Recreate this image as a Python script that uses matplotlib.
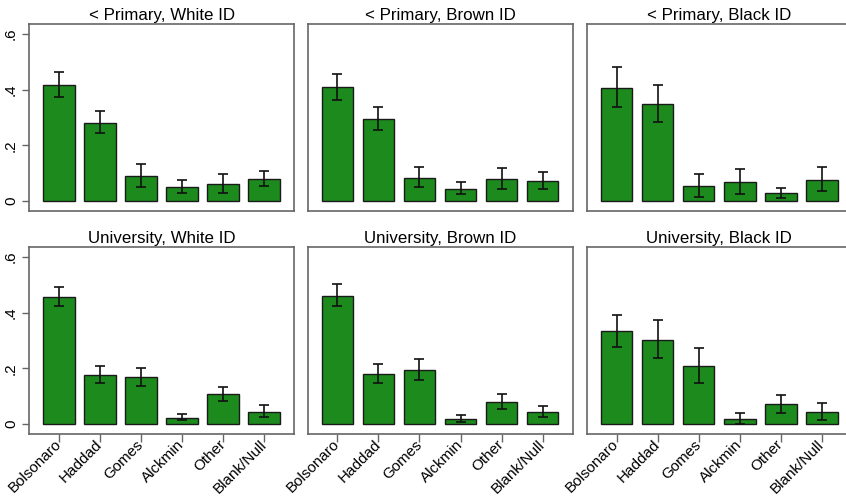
import numpy as np
import matplotlib.pyplot as plt

plt.rcParams['font.family'] = ['Liberation Sans', 'DejaVu Sans']

candidates = ["Bolsonaro", "Haddad", "Gomes", "Alckmin", "Other", "Blank/Null"]
titles = ["< Primary, White ID", "< Primary, Brown ID", "< Primary, Black ID",
          "University, White ID", "University, Brown ID", "University, Black ID"]

# vote shares per panel
share = [
    [0.417, 0.282, 0.091, 0.050, 0.061, 0.079],
    [0.408, 0.296, 0.083, 0.044, 0.078, 0.072],
    [0.406, 0.348, 0.055, 0.068, 0.028, 0.077],
    [0.456, 0.177, 0.168, 0.024, 0.107, 0.044],
    [0.459, 0.181, 0.193, 0.018, 0.079, 0.043],
    [0.333, 0.303, 0.207, 0.018, 0.071, 0.043],
]
# confidence interval bounds
lower = [
    [0.374, 0.246, 0.051, 0.030, 0.031, 0.054],
    [0.362, 0.256, 0.050, 0.025, 0.044, 0.043],
    [0.337, 0.284, 0.015, 0.025, 0.010, 0.036],
    [0.422, 0.149, 0.137, 0.014, 0.085, 0.026],
    [0.422, 0.149, 0.158, 0.007, 0.056, 0.025],
    [0.277, 0.239, 0.146, 0.000, 0.040, 0.015],
]
upper = [
    [0.464, 0.325, 0.133, 0.076, 0.096, 0.109],
    [0.457, 0.338, 0.122, 0.068, 0.119, 0.103],
    [0.482, 0.415, 0.097, 0.115, 0.049, 0.122],
    [0.492, 0.209, 0.203, 0.038, 0.133, 0.068],
    [0.503, 0.216, 0.234, 0.032, 0.107, 0.067],
    [0.392, 0.374, 0.274, 0.041, 0.105, 0.076],
]

W, H = 846, 496
fig = plt.figure(figsize=(W / 100, H / 100), dpi=100)

lefts = [29, 307.5, 586.7]
tops = [24, 247]
aw, ah = 265, 187

x = np.arange(len(candidates))
for i in range(6):
    r, c = divmod(i, 3)
    ax = fig.add_axes([lefts[c] / W, 1 - (tops[r] + ah) / H, aw / W, ah / H])
    s = np.array(share[i])
    err = [s - np.array(lower[i]), np.array(upper[i]) - s]
    ax.bar(x, s, width=0.77, color="#1c8a1c", edgecolor="#1a1a1a", linewidth=1)
    ax.errorbar(x, s, yerr=err, fmt="none", ecolor="#111111", elinewidth=1.2,
                capsize=3.5, capthick=1.2)
    ax.set_xlim(-0.73, 5.73)
    ax.set_ylim(-0.035, 0.635)
    ax.set_title(titles[i], fontsize=12.2, pad=3)
    for sp in ax.spines.values():
        sp.set_color("#666666")
        sp.set_linewidth(1.2)
    if c == 0:
        ax.set_yticks([0, 0.2, 0.4, 0.6])
        ax.set_yticklabels(["0", ".2", ".4", ".6"], rotation=90, va="center", fontsize=11)
        ax.tick_params(axis="y", length=5, width=1, color="#666666", pad=3)
    else:
        ax.set_yticks([])
    if r == 1:
        ax.set_xticks(x)
        ax.set_xticklabels(candidates, rotation=45, ha="right", va="center",
                           rotation_mode="anchor", fontsize=11)
        ax.tick_params(axis="x", length=6, width=1, color="#666666", pad=0)
    else:
        ax.set_xticks([])

fig.savefig("out.png", dpi=100)
